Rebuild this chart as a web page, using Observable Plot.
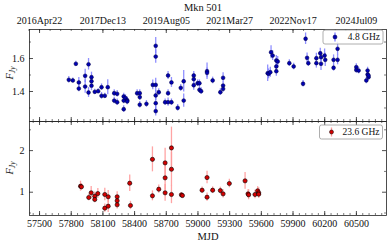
<!DOCTYPE html>
<html>
<head>
<meta charset="utf-8">
<script src="https://cdn.jsdelivr.net/npm/d3@7"></script>
<script src="https://cdn.jsdelivr.net/npm/@observablehq/plot@0.6"></script>
<style>
  html, body { margin: 0; padding: 0; background: #fff; }
  #chart { position: relative; width: 389px; height: 243px; overflow: hidden; }
  #chart svg { position: absolute; left: 0; overflow: visible; }
</style>
</head>
<body>
<div id="chart"></div>
<script>
// ---------- data ----------
const title = "Mkn 501";
const xLabel = "MJD";
const legend48 = "4.8 GHz";
const legend236 = "23.6 GHz";

const bottomTickValues = [57500, 57800, 58100, 58400, 58700, 59000, 59300, 59600, 59900, 60200, 60500];
const topTickValues = [57500, 58100, 58700, 59300, 59900, 60500];
const topTickLabels = ["2016Apr22", "2017Dec13", "2019Aug05", "2021Mar27", "2022Nov17", "2024Jul09"];
const yTicks48 = [1.4, 1.6];
const yTicks236 = [1, 2];

// 4.8 GHz
const mjd48 = [57777, 57815, 57844, 57872, 57872, 57932, 57932, 57964, 57964, 57992, 57992, 57992,
  58023, 58055, 58087, 58087, 58118, 58146, 58207, 58207, 58235, 58235, 58297, 58297, 58297, 58314,
  58330, 58330, 58424, 58449, 58449, 58449, 58512, 58572, 58600, 58600, 58600, 58600, 58600, 58600,
  58629, 58689, 58717, 58717, 58717, 58749, 58749, 58808, 58837, 58865, 58865, 58960, 58960, 58960,
  58997, 59014, 59014, 59030, 59086, 59086, 59139, 59212, 59238, 59238, 59238,
  59660, 59669, 59685, 59692, 59707, 59742, 59742, 59742, 59755, 59865, 59906, 59995, 60019, 60033,
  60045, 60121, 60121, 60158, 60165, 60165, 60199, 60205, 60284, 60284, 60322, 60322,
  60499, 60499, 60521, 60594, 60606, 60606, 60615, 60615];
const flux48 = [1.471, 1.467, 1.568, 1.455, 1.418, 1.495, 1.430, 1.565, 1.394, 1.487, 1.462, 1.435,
  1.398, 1.402, 1.426, 1.374, 1.374, 1.426, 1.390, 1.345, 1.386, 1.335, 1.370, 1.345, 1.293, 1.360,
  1.347, 1.340, 1.390, 1.390, 1.366, 1.320, 1.325, 1.440, 1.677, 1.612, 1.440, 1.376, 1.329, 1.281,
  1.396, 1.335, 1.497, 1.390, 1.335, 1.455, 1.335, 1.301, 1.422, 1.462, 1.345, 1.497, 1.475, 1.438,
  1.450, 1.450, 1.410, 1.402, 1.523, 1.513, 1.467, 1.396, 1.483, 1.436, 1.416,
  1.511, 1.507, 1.517, 1.638, 1.618, 1.588, 1.552, 1.523, 1.582, 1.572, 1.552, 1.447, 1.720, 1.604,
  1.572, 1.602, 1.572, 1.632, 1.608, 1.568, 1.618, 1.592, 1.592, 1.544, 1.659, 1.592,
  1.548, 1.531, 1.527, 1.467, 1.527, 1.503, 1.487, 1.497];
const err48 = [0.02, 0.015, 0.015, 0.03, 0.02, 0.04, 0.04, 0.035, 0.03, 0.03, 0.03, 0.03,
  0.015, 0.015, 0.02, 0.02, 0.015, 0.045, 0.02, 0.02, 0.02, 0.02, 0.02, 0.02, 0.02, 0.02,
  0.02, 0.02, 0.02, 0.02, 0.02, 0.02, 0.02, 0.03, 0.05, 0.04, 0.04, 0.03, 0.04, 0.03,
  0.02, 0.02, 0.025, 0.02, 0.025, 0.03, 0.02, 0.02, 0.02, 0.065, 0.04, 0.025, 0.03, 0.03,
  0.02, 0.02, 0.02, 0.02, 0.05, 0.03, 0.02, 0.02, 0.03, 0.02, 0.02,
  0.05, 0.03, 0.03, 0.04, 0.03, 0.03, 0.03, 0.03, 0.03, 0.02, 0.02, 0.02, 0.035, 0.03,
  0.02, 0.03, 0.03, 0.03, 0.03, 0.04, 0.04, 0.04, 0.03, 0.02, 0.04, 0.03,
  0.02, 0.02, 0.02, 0.02, 0.02, 0.02, 0.02, 0.02];

// 23.6 GHz
const mjd236 = [57888, 57897, 57966, 57989, 58023, 58023, 58052, 58118, 58118, 58150, 58150,
  58235, 58235, 58235, 58354, 58361, 58569, 58569, 58629, 58689, 58689, 58689, 58749, 58749, 58749,
  58843, 58853, 59039, 59086, 59086, 59139, 59212, 59238, 59297, 59446, 59474, 59480, 59540,
  59565, 59575, 59575];
const flux236 = [1.144, 1.130, 0.873, 0.985, 0.904, 0.825, 0.968, 0.945, 0.616, 0.890, 0.664,
  0.890, 0.794, 0.698, 1.216, 0.681, 1.790, 0.913, 1.072, 1.705, 1.345, 0.985, 2.065, 1.552, 0.945,
  0.937, 0.920, 1.048, 1.352, 0.880, 1.048, 1.040, 0.960, 1.209, 1.273, 0.960, 0.937, 0.945,
  1.033, 0.985, 0.952];
const err236 = [0.12, 0.08, 0.08, 0.15, 0.1, 0.08, 0.12, 0.15, 0.1, 0.15, 0.15,
  0.12, 0.1, 0.1, 0.2, 0.1, 0.3, 0.12, 0.1, 0.35, 0.3, 0.2, 0.5, 0.4, 0.22,
  0.05, 0.05, 0.08, 0.15, 0.1, 0.08, 0.08, 0.1, 0.1, 0.2, 0.1, 0.12, 0.1,
  0.1, 0.12, 0.1];

const data48 = mjd48.map((m, i) => ({mjd: m, f: flux48[i], e: err48[i]}));
const data236 = mjd236.map((m, i) => ({mjd: m, f: flux236[i], e: err236[i]}));

// ---------- layout ----------
const W = 389;
const xDomain = [57405, 60785];
const mL = 29, mR = 3;
const fw = W - mL - mR;
const font = "'Liberation Serif', 'DejaVu Serif', serif";
const minorX = d3.range(57440, 60785, 60);
const minorXTop = d3.range(57400, 60785, 100);

function tickMarks(fh, xMajTop, xMinTop, xMajBot, xMinBot, yMaj, yMin) {
  const c = "#222";
  return [
    Plot.ruleX(xMajBot, {x: d => d, insetTop: fh - 4, stroke: c, strokeWidth: 0.8}),
    Plot.ruleX(xMinBot, {x: d => d, insetTop: fh - 2, stroke: c, strokeWidth: 0.6}),
    Plot.ruleX(xMajTop, {x: d => d, insetBottom: fh - 4, stroke: c, strokeWidth: 0.8}),
    Plot.ruleX(xMinTop, {x: d => d, insetBottom: fh - 2, stroke: c, strokeWidth: 0.6}),
    Plot.ruleY(yMaj, {y: d => d, insetRight: fw - 4, stroke: c, strokeWidth: 0.8}),
    Plot.ruleY(yMin, {y: d => d, insetRight: fw - 2, stroke: c, strokeWidth: 0.6}),
    Plot.ruleY(yMaj, {y: d => d, insetLeft: fw - 4, stroke: c, strokeWidth: 0.8}),
    Plot.ruleY(yMin, {y: d => d, insetLeft: fw - 2, stroke: c, strokeWidth: 0.6})
  ];
}

// ---------- top panel ----------
const topH = 121, topMT = 29;
const topPlot = Plot.plot({
  width: W, height: topH, marginTop: topMT, marginBottom: 0, marginLeft: mL, marginRight: mR,
  style: {fontFamily: font, fontSize: "10px", background: "transparent", color: "#111"},
  x: {domain: xDomain, axis: null},
  y: {domain: [1.218, 1.776], axis: null},
  marks: [
    Plot.ruleX(data48, {x: "mjd", y1: d => d.f - d.e, y2: d => d.f + d.e, stroke: "#7c7cff", strokeWidth: 1.3, strokeOpacity: 0.85}),
    Plot.dot(data48, {x: "mjd", y: "f", r: 1.9, fill: "#0000b4", stroke: "#00003a", strokeWidth: 0.5}),
    ...tickMarks(topH - topMT, topTickValues, minorXTop, bottomTickValues, minorX, yTicks48, [1.3, 1.5, 1.7]),
    Plot.frame({stroke: "#222", strokeWidth: 0.8}),
    Plot.axisX({anchor: "top", ticks: topTickValues, tickFormat: d => topTickLabels[topTickValues.indexOf(d)], tickSize: 0, tickPadding: 6, label: null}),
    Plot.axisY({anchor: "left", ticks: yTicks48, tickFormat: d3.format(".1f"), tickSize: 0, tickPadding: 5, label: null}),
    Plot.text([title], {frameAnchor: "top", lineAnchor: "bottom", dy: -19, dx: -5, fontSize: 10.5})
  ]
});
topPlot.style.top = "0px";

// ---------- bottom panel ----------
const botH = 122, botMB = 28;
const botPlot = Plot.plot({
  width: W, height: botH, marginTop: 0, marginBottom: botMB, marginLeft: mL, marginRight: mR,
  style: {fontFamily: font, fontSize: "10px", background: "transparent", color: "#111"},
  x: {domain: xDomain, axis: null},
  y: {domain: [0.44, 2.7], axis: null},
  marks: [
    Plot.ruleX(data236, {x: "mjd", y1: d => d.f - d.e, y2: d => d.f + d.e, stroke: "#ff9a9a", strokeWidth: 1.3, strokeOpacity: 0.9}),
    Plot.dot(data236, {x: "mjd", y: "f", r: 2.1, fill: "#d40000", stroke: "#000", strokeWidth: 0.6}),
    ...tickMarks(botH - botMB, bottomTickValues, minorX, bottomTickValues, minorX, yTicks236, [0.5, 1.5, 2.5]),
    Plot.frame({stroke: "#222", strokeWidth: 0.8}),
    Plot.axisX({anchor: "bottom", ticks: bottomTickValues, tickFormat: d => String(d), tickSize: 0, tickPadding: 4, label: null}),
    Plot.axisY({anchor: "left", ticks: yTicks236, tickFormat: d => String(d), tickSize: 0, tickPadding: 5, label: null}),
    Plot.text([xLabel], {frameAnchor: "bottom", lineAnchor: "middle", dy: 21, fontSize: 10.5})
  ]
});
botPlot.style.top = "121px";

const chart = document.getElementById("chart");
chart.appendChild(topPlot);
chart.appendChild(botPlot);

// ---------- y labels & legends ----------
function yLabel(svg, cx, cy) {
  const t = d3.select(svg).append("text")
    .attr("transform", `translate(${cx},${cy}) rotate(-90)`)
    .attr("text-anchor", "middle")
    .attr("font-family", font)
    .attr("font-style", "italic")
    .attr("font-size", "10.5px")
    .attr("fill", "#111");
  t.append("tspan").text("F");
  t.append("tspan").attr("dy", 2).attr("font-size", "7.5px").text("Jy");
}
yLabel(topPlot, 13, 73);
yLabel(botPlot, 13, 168 - 121);

function legend(svg, x0, y0, w, h, label, fill, stroke, errColor) {
  const g = d3.select(svg).append("g");
  g.append("rect").attr("x", x0).attr("y", y0).attr("width", w).attr("height", h)
    .attr("rx", 2).attr("fill", "#fff").attr("fill-opacity", 0.85)
    .attr("stroke", "#999").attr("stroke-width", 0.8);
  const mx = x0 + 12, my = y0 + h / 2;
  g.append("line").attr("x1", mx).attr("x2", mx).attr("y1", my - 4.5).attr("y2", my + 4.5)
    .attr("stroke", errColor).attr("stroke-width", 1.3);
  g.append("circle").attr("cx", mx).attr("cy", my).attr("r", 2).attr("fill", fill)
    .attr("stroke", stroke).attr("stroke-width", 0.5);
  g.append("text").attr("x", x0 + w - 3).attr("y", my).attr("dy", "0.35em")
    .attr("text-anchor", "end").attr("font-family", font).attr("font-size", "9.5px")
    .attr("fill", "#111").text(label);
}
legend(topPlot, 323, 30, 60, 14, legend48, "#0000b4", "#00003a", "#7c7cff");
legend(botPlot, 319.5, 4, 63, 14, legend236, "#d40000", "#000", "#ff9a9a");
</script>
</body>
</html>
